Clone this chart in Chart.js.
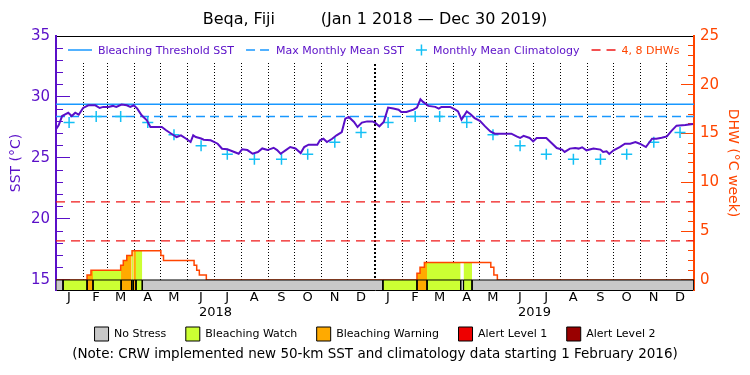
<!DOCTYPE html>
<html lang="en">
<head>
    <meta charset="UTF-8">
    <title>Beqa, Fiji | SST and DHW</title>
    <script src="https://cdn.jsdelivr.net/npm/chart.js"></script>
    <style>
        html, body { margin: 0; padding: 0; background: #ffffff; }
        .grafico { width: 750px; height: 375px; }
    </style>
</head>
<body>
    <div class="grafico">
        <canvas id="crwCanvas" width="750" height="375"></canvas>
    </div>

    <script>
        // --- data (x = days since Jan 1 2018) ---
        const years = [2018, 2019];
        const monthLetters = ['J', 'F', 'M', 'A', 'M', 'J', 'J', 'A', 'S', 'O', 'N', 'D'];
        const sstTicks = [15, 20, 25, 30, 35];
        const dhwTicks = [0, 5, 10, 15, 20, 25];

        const sstDays = [
            0, 3, 7, 11, 14, 18, 22, 26, 31, 37,
            45, 50, 54, 60, 65, 69, 75, 81, 85, 89,
            93, 98, 104, 108, 121, 126, 132, 138, 143, 149,
            154, 157, 160, 166, 169, 177, 185, 190, 196, 204,
            209, 213, 219, 225, 231, 236, 242, 249, 253, 257,
            263, 268, 274, 280, 284, 289, 299, 302, 306, 310,
            316, 321, 327, 331, 335, 341, 345, 350, 356, 362,
            365, 370, 375, 380, 386, 392, 395, 401, 409, 413,
            417, 420, 426, 434, 438, 441, 451, 457, 460, 464,
            470, 474, 479, 485, 491, 497, 502, 521, 527, 531,
            535, 542, 546, 550, 561, 567, 573, 579, 582, 588,
            594, 598, 602, 607, 615, 623, 626, 630, 633, 638,
            645, 651, 657, 663, 668, 675, 682, 687, 693, 699,
            704, 710, 720, 729
        ];
        const sstValues = [
            27.35, 27.68, 28.44, 28.60, 28.71, 28.44, 28.71, 28.55, 29.10, 29.32,
            29.32, 29.10, 29.19, 29.19, 29.27, 29.19, 29.38, 29.32, 29.19, 29.32,
            29.05, 28.50, 28.09, 27.54, 27.54, 27.27, 26.99, 26.72, 26.86, 26.58,
            26.31, 26.86, 26.72, 26.60, 26.50, 26.45, 26.17, 25.76, 25.72, 25.49,
            25.35, 25.72, 25.65, 25.35, 25.49, 25.78, 25.65, 25.84, 25.65, 25.35,
            25.65, 25.90, 25.78, 25.40, 25.90, 26.09, 26.09, 26.45, 26.58, 26.31,
            26.58, 26.86, 27.13, 28.22, 28.36, 27.95, 27.54, 27.90, 28.00, 28.00,
            27.90, 27.60, 27.95, 29.13, 29.05, 28.96, 28.77, 28.77, 28.96, 29.13,
            29.81, 29.60, 29.27, 29.19, 29.05, 29.19, 29.19, 28.96, 28.82, 28.14,
            28.82, 28.60, 28.27, 28.05, 27.59, 27.18, 26.99, 26.99, 26.77, 26.64,
            26.82, 26.64, 26.36, 26.64, 26.64, 26.23, 25.82, 25.69, 25.50, 25.77,
            25.82, 25.77, 25.88, 25.63, 25.77, 25.69, 25.50, 25.55, 25.33, 25.63,
            25.90, 26.17, 26.17, 26.30, 26.17, 25.90, 26.58, 26.58, 26.66, 26.77,
            27.20, 27.65, 27.70, 27.78
        ];

        // monthly mean climatology, Jan..Dec (repeated each year)
        const climMonthly = [27.9, 28.4, 28.4, 27.9, 26.9, 26.0, 25.3, 24.9, 24.9, 25.3, 26.3, 27.1];
        const bleachingThreshold = 29.4;
        const maxMonthlyMean = 28.4;

        // degree heating weeks, value holds from that day on
        const dhwDays = [0, 35.5, 40, 74, 77, 81, 87, 120, 123, 158, 161, 164, 172, 413, 416.5, 421.5, 497.5, 501, 505, 730];
        const dhwValues = [0, 0.5, 1.0, 1.5, 2.0, 2.5, 3.0, 2.5, 2.0, 1.5, 1.0, 0.5, 0, 0.7, 1.3, 1.8, 1.3, 0.5, 0, 0];
        const dhwLevels = [4, 8];

        // stress level bar (0 no stress, 1 watch, 2 warning, 3 alert 1, 4 alert 2)
        const stressStart = [0, 8, 35.5, 42.3, 74.4, 86.6, 88.4, 91.5, 98.7, 374, 413, 424.5, 463, 466.3, 476];
        const stressEnd = [8, 35.5, 42.3, 74.4, 86.6, 88.4, 91.5, 98.7, 374, 413, 424.5, 463, 466.3, 476, 730];
        const stressLevel = [0, 1, 2, 1, 2, 1, 2, 1, 0, 1, 2, 1, 0, 1, 0];
        const stressNames = ['No Stress', 'Bleaching Watch', 'Bleaching Warning', 'Alert Level 1', 'Alert Level 2'];
        const topLegendLabels = ['Bleaching Threshold SST', 'Max Monthly Mean SST', 'Monthly Mean Climatology', '4, 8 DHWs'];

        // --- styles ---
        const purple = '#5a0fc8';
        const orangeRed = '#ff4500';
        const dhwRed = '#f01818';
        const blue = '#1898ff';
        const cyan = '#14c0f5';
        const stressColors = ['#c8c8c8', '#ccff33', '#ffaa00', '#ee0000', '#990000'];

        const xMin = 0, xMax = 730;
        const sstMin = 14.18, sstMax = 35;
        const dhwMin = (sstMin - 15) * 25 / 20, dhwMax = 25;

        Chart.defaults.font.family = '"DejaVu Sans", sans-serif';

        // helpers
        const dayOf = (y, m, d) => (Date.UTC(y, m, d) - Date.UTC(2018, 0, 1)) / 86400000;
        const monthStarts = [];
        years.forEach(y => monthLetters.forEach((_, m) => monthStarts.push(dayOf(y, m, 1))));
        const yearCenters = years.map(y => (dayOf(y, 0, 1) + dayOf(y + 1, 0, 1)) / 2);

        function dhwAt(day) {
            let v = 0;
            dhwDays.forEach((d, k) => { if (d <= day) v = dhwValues[k]; });
            return v;
        }

        // --- datasets ---
        const datasets = [];

        // stress bar under the plot
        stressStart.forEach((s, i) => {
            const e = stressEnd[i];
            datasets.push({
                data: [{ x: s, y: dhwMin }, { x: s, y: 0 }, { x: e, y: 0 }, { x: e, y: dhwMin }],
                yAxisID: 'yDhw',
                borderColor: '#000000',
                borderWidth: 1,
                backgroundColor: stressColors[stressLevel[i]],
                fill: 'start',
                pointRadius: 0,
                order: 0
            });
        });

        datasets.push({
            data: sstDays.map((d, i) => ({ x: d, y: sstValues[i] })),
            yAxisID: 'y',
            borderColor: purple,
            borderWidth: 2,
            pointRadius: 0,
            tension: 0,
            order: 1
        });

        datasets.push({
            data: years.flatMap(y => climMonthly.map((v, m) => ({ x: dayOf(y, m, 16), y: v }))),
            yAxisID: 'y',
            showLine: false,
            pointStyle: 'cross',
            pointRadius: 5.5,
            pointBorderWidth: 1.5,
            pointBorderColor: cyan,
            order: 2
        });

        datasets.push({
            data: dhwDays.map((d, i) => ({ x: d, y: dhwValues[i] })),
            yAxisID: 'yDhw',
            stepped: 'before',
            borderColor: orangeRed,
            borderWidth: 1.5,
            pointRadius: 0,
            order: 3
        });

        datasets.push({
            data: [{ x: xMin, y: bleachingThreshold }, { x: xMax, y: bleachingThreshold }],
            yAxisID: 'y',
            borderColor: blue,
            borderWidth: 1.5,
            pointRadius: 0,
            order: 4
        });
        datasets.push({
            data: [{ x: xMin, y: maxMonthlyMean }, { x: xMax, y: maxMonthlyMean }],
            yAxisID: 'y',
            borderColor: blue,
            borderWidth: 1.5,
            borderDash: [9, 5],
            pointRadius: 0,
            order: 4
        });

        dhwLevels.forEach(lv => {
            datasets.push({
                data: [{ x: xMin, y: lv }, { x: xMax, y: lv }],
                yAxisID: 'yDhw',
                borderColor: dhwRed,
                borderWidth: 1.2,
                borderDash: [9, 6],
                pointRadius: 0,
                order: 5
            });
        });

        // colored area under the DHW curve, by stress level
        stressStart.forEach((s, i) => {
            if (stressLevel[i] === 0) return;
            const e = stressEnd[i];
            const pts = [{ x: s, y: dhwAt(s) }];
            dhwDays.forEach((d, k) => { if (d > s && d < e) pts.push({ x: d, y: dhwValues[k] }); });
            pts.push({ x: e, y: pts[pts.length - 1].y });
            datasets.push({
                data: pts,
                yAxisID: 'yDhw',
                stepped: 'before',
                borderColor: 'rgba(0,0,0,0)',
                borderWidth: 0,
                backgroundColor: stressColors[stressLevel[i]],
                fill: 'origin',
                pointRadius: 0,
                order: 6
            });
        });

        // legend drawn inside the top of the plot box
        const topLegend = {
            id: 'topLegend',
            beforeDatasetsDraw(chart) {
                const { ctx, chartArea } = chart;
                ctx.save();
                ctx.fillStyle = '#ffffff';
                ctx.fillRect(chartArea.left + 16, chartArea.top + 1, chartArea.width - 32, 26);
                ctx.restore();
            },
            afterDatasetsDraw(chart) {
                const { ctx, chartArea } = chart;
                const y = chartArea.top + 14;
                const styles = [
                    { color: blue, dash: [], text: purple },
                    { color: blue, dash: [9, 5], text: purple },
                    { color: cyan, cross: true, text: purple },
                    { color: dhwRed, dash: [9, 6], text: orangeRed }
                ];
                let x = chartArea.left + 12;
                ctx.save();
                ctx.font = '11px "DejaVu Sans"';
                ctx.textBaseline = 'middle';
                topLegendLabels.forEach((label, i) => {
                    const st = styles[i];
                    ctx.strokeStyle = st.color;
                    ctx.lineWidth = 1.5;
                    ctx.beginPath();
                    if (st.cross) {
                        ctx.setLineDash([]);
                        ctx.moveTo(x, y); ctx.lineTo(x + 11, y);
                        ctx.moveTo(x + 5.5, y - 5.5); ctx.lineTo(x + 5.5, y + 5.5);
                        x += 11;
                    } else {
                        ctx.setLineDash(st.dash);
                        ctx.moveTo(x, y); ctx.lineTo(x + 24, y);
                        x += 24;
                    }
                    ctx.stroke();
                    x += 6;
                    ctx.fillStyle = st.text;
                    ctx.fillText(label, x, y + 1);
                    x += ctx.measureText(label).width + 12;
                });
                ctx.restore();
            }
        };

        const xDash = (c) => (c.tick && c.tick.value === 365) ? [2, 2] : [1, 2];

        new Chart(document.getElementById('crwCanvas'), {
            type: 'line',
            data: { datasets: datasets },
            plugins: [topLegend],
            options: {
                responsive: false,
                animation: false,
                events: [],
                devicePixelRatio: 1,
                layout: { padding: 0 },
                plugins: {
                    tooltip: { enabled: false },
                    title: {
                        display: true,
                        text: 'Beqa, Fiji         (Jan 1 2018 \u2014 Dec 30 2019)',
                        color: '#000000',
                        font: { size: 16, weight: 'normal', lineHeight: 1.125 },
                        padding: { top: 11, bottom: 7 }
                    },
                    subtitle: {
                        display: true,
                        position: 'bottom',
                        text: '(Note: CRW implemented new 50-km SST and climatology data starting 1 February 2016)',
                        color: '#000000',
                        font: { size: 13.5 },
                        padding: { top: -5.1, bottom: 12.9 }
                    },
                    legend: {
                        position: 'bottom',
                        onClick: null,
                        labels: {
                            boxWidth: 14,
                            boxHeight: 14,
                            padding: 9,
                            color: '#000000',
                            font: { size: 11 },
                            // trailing spaces widen the gap between entries
                            generateLabels: () => stressNames.map((name, i) => ({
                                text: i < stressNames.length - 1 ? name + '   ' : name,
                                fillStyle: stressColors[i],
                                strokeStyle: '#000000',
                                lineWidth: 1,
                                hidden: false,
                                fontColor: '#000000'
                            }))
                        }
                    }
                },
                scales: {
                    x: {
                        type: 'linear',
                        position: 'bottom',
                        weight: 0,
                        min: xMin,
                        max: xMax,
                        afterBuildTicks: (axis) => { axis.ticks = monthStarts.map(v => ({ value: v })); },
                        afterFit: (axis) => { axis.height = 14; },
                        ticks: {
                            autoSkip: false,
                            maxRotation: 0,
                            minRotation: 0,
                            padding: 0,
                            labelOffset: 13,
                            color: '#000000',
                            font: { size: 13 },
                            callback: (v, i) => monthLetters[i % 12]
                        },
                        grid: {
                            drawTicks: false,
                            color: (c) => (c.tick && c.tick.value === 0) ? 'rgba(0,0,0,0)' : '#000000',
                            lineWidth: (c) => (c.tick && c.tick.value === 365) ? 2 : 1
                        },
                        border: { display: true, color: '#000000', width: 1, dash: xDash }
                    },
                    xYear: {
                        type: 'linear',
                        position: 'bottom',
                        weight: 1,
                        min: xMin,
                        max: xMax,
                        afterBuildTicks: (axis) => { axis.ticks = yearCenters.map(v => ({ value: v })); },
                        afterFit: (axis) => { axis.height = 14; },
                        ticks: {
                            autoSkip: false,
                            maxRotation: 0,
                            padding: 1,
                            color: '#000000',
                            font: { size: 13 },
                            callback: (v, i) => String(years[i])
                        },
                        grid: { display: false, drawTicks: false },
                        border: { display: false }
                    },
                    xTop: {
                        type: 'linear',
                        position: 'top',
                        min: xMin,
                        max: xMax,
                        afterFit: (axis) => { axis.height = 0; },
                        ticks: { display: false },
                        grid: { display: false, drawTicks: false },
                        border: { display: true, color: '#000000', width: 1 }
                    },
                    y: {
                        type: 'linear',
                        position: 'left',
                        weight: 10,
                        min: sstMin,
                        max: sstMax,
                        afterBuildTicks: (axis) => { axis.ticks = sstTicks.map(v => ({ value: v })); },
                        afterFit: (axis) => { axis.width = 56; },
                        ticks: { color: purple, font: { size: 15 }, padding: 20 },
                        grid: { drawOnChartArea: false, drawTicks: true, tickLength: -14, tickColor: purple, tickWidth: 1 },
                        border: { display: true, color: purple, width: 2 },
                        title: { display: true, text: 'SST (\u00B0C)', color: purple, font: { size: 14 }, padding: { top: 8 } }
                    },
                    ySstMinor: {
                        type: 'linear',
                        position: 'left',
                        weight: 0,
                        min: sstMin,
                        max: sstMax,
                        afterBuildTicks: (axis) => {
                            const t = [];
                            for (let v = sstTicks[0]; v <= sstMax; v++) t.push({ value: v });
                            axis.ticks = t;
                        },
                        afterFit: (axis) => { axis.width = 0; },
                        ticks: { display: false },
                        grid: { drawOnChartArea: false, drawTicks: true, tickLength: -7, tickColor: purple, tickWidth: 1 },
                        border: { display: false }
                    },
                    yDhw: {
                        type: 'linear',
                        position: 'right',
                        weight: 10,
                        min: dhwMin,
                        max: dhwMax,
                        afterBuildTicks: (axis) => { axis.ticks = dhwTicks.map(v => ({ value: v })); },
                        afterFit: (axis) => { axis.width = 56; },
                        ticks: { color: orangeRed, font: { size: 15 }, padding: 19 },
                        grid: { drawOnChartArea: false, drawTicks: true, tickLength: -13, tickColor: orangeRed, tickWidth: 1 },
                        border: { display: true, color: orangeRed, width: 2 },
                        title: { display: true, text: 'DHW (\u00B0C week)', color: orangeRed, font: { size: 14 }, padding: { top: 9 } }
                    },
                    yDhwMinor: {
                        type: 'linear',
                        position: 'right',
                        weight: 0,
                        min: dhwMin,
                        max: dhwMax,
                        afterBuildTicks: (axis) => {
                            const t = [];
                            for (let v = 0; v <= dhwMax; v++) t.push({ value: v });
                            axis.ticks = t;
                        },
                        afterFit: (axis) => { axis.width = 0; },
                        ticks: { display: false },
                        grid: { drawOnChartArea: false, drawTicks: true, tickLength: -6, tickColor: orangeRed, tickWidth: 1 },
                        border: { display: false }
                    }
                }
            }
        });
    </script>
</body>
</html>
